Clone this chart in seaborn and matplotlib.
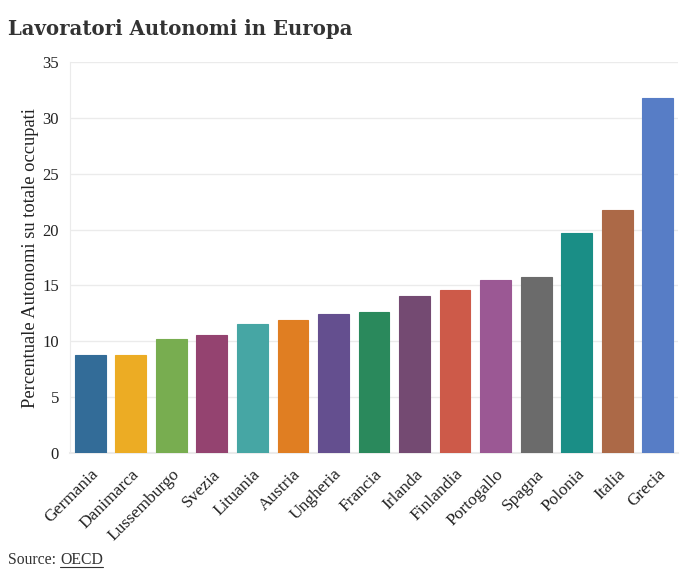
import pandas as pd
import matplotlib
matplotlib.use('Agg')
import matplotlib.pyplot as plt
import seaborn as sns

# dati: quota lavoratori autonomi sul totale occupati (%)
paesi = ['Germania', 'Danimarca', 'Lussemburgo', 'Svezia', 'Lituania', 'Austria',
         'Ungheria', 'Francia', 'Irlanda', 'Finlandia', 'Portogallo', 'Spagna',
         'Polonia', 'Italia', 'Grecia']
valori = [8.8, 8.8, 10.2, 10.6, 11.55, 11.9, 12.45, 12.6, 14.05, 14.6, 15.5, 15.75,
          19.7, 21.75, 31.8]
colori = ['#336C98', '#ECAC24', '#78AD50', '#944370', '#46A6A4', '#E07E22',
          '#644F8F', '#2A895C', '#744A72', '#CD5A49', '#9B5894', '#6B6B6B',
          '#1A8E86', '#AC6947', '#577DC6']

data = pd.DataFrame({'Paese': paesi, 'Valore': valori})

sns.set_style('white')
plt.rcParams['font.family'] = ['Liberation Serif', 'DejaVu Serif']
grid_col = '#EBEBEB'

fig = plt.figure(figsize=(6.84, 5.77), dpi=100)
ax = fig.add_axes([70 / 684, 1 - 453 / 577, 608 / 684, 391 / 577])

sns.barplot(data=data, x='Paese', y='Valore', hue='Paese', palette=colori,
            legend=False, width=0.76, saturation=1, ax=ax, zorder=3)
for p, c in zip(ax.patches, colori):
    p.set_edgecolor(c)
    p.set_linewidth(0.8)

ax.set_ylim(0, 35)
ax.set_yticks(range(0, 36, 5))
ax.set_xlim(-0.5, len(paesi) - 0.5)
ax.yaxis.grid(True, color=grid_col, linewidth=1, zorder=0)
for s in ['top', 'right']:
    ax.spines[s].set_visible(False)
ax.spines['left'].set_color(grid_col)
ax.spines['bottom'].set_color(grid_col)
ax.spines['bottom'].set_linewidth(1.5)
ax.tick_params(axis='y', length=0, labelsize=12, colors='#222222', pad=8)
ax.tick_params(axis='x', length=6, color=grid_col, labelsize=12.5, colors='#222222')
plt.setp(ax.get_xticklabels(), rotation=45, ha='right', rotation_mode='anchor')
ax.set_xlabel('')
ax.set_ylabel('Percentuale Autonomi su totale occupati', fontsize=13.3, color='#222222',
              labelpad=2)

fig.text(8 / 684, 1 - 29 / 577, 'Lavoratori Autonomi in Europa', fontsize=14.2,
         fontweight='bold', family=['DejaVu Serif'], color='#333333', va='center')

t1 = fig.text(8 / 684, 1 - 560 / 577, 'Source: ', fontsize=11.3, color='#333333', va='center')
fig.canvas.draw()
bb = t1.get_window_extent()
t2 = fig.text(bb.x1 / 684, 1 - 560 / 577, 'OECD', fontsize=11.3, color='#333333', va='center')
fig.canvas.draw()
bb2 = t2.get_window_extent()
fig.add_artist(plt.Line2D([bb2.x0 / 684, bb2.x1 / 684], [(bb2.y0 + 1) / 577] * 2,
                          color='#333333', linewidth=0.8))

fig.savefig('out.png', dpi=100)
